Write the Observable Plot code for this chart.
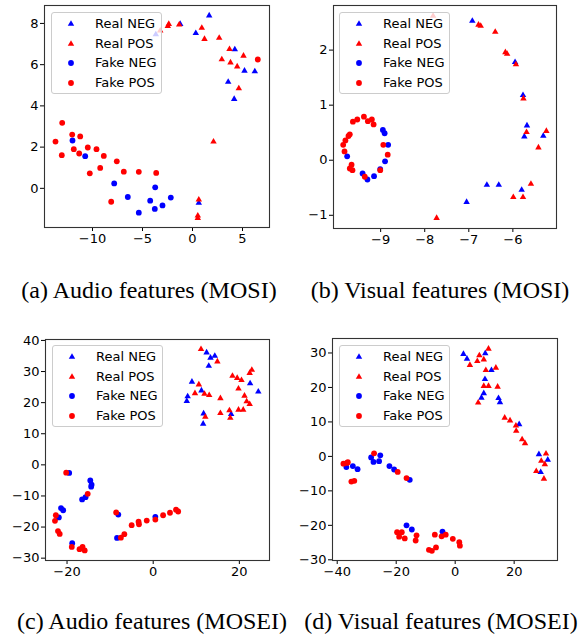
<!DOCTYPE html>
<html>
<head>
<meta charset="utf-8">
<script src="https://cdn.jsdelivr.net/npm/d3@7"></script>
<script src="https://cdn.jsdelivr.net/npm/@observablehq/plot@0.6"></script>
<style>
  body { margin: 0; background: #fff; }
  #root { position: relative; width: 584px; height: 634px; background: #fff; overflow: hidden; }
  .panel { position: absolute; }
  .legend { position: absolute; width: 109px; height: 80px; background: rgba(255,255,255,0.8);
            border: 1px solid #cccccc; border-radius: 3px; font-family: "DejaVu Sans", sans-serif; font-size: 13px; color: #000; }
  .legend .row { position: absolute; left: 0; height: 20px; line-height: 20px; white-space: nowrap; }
  .legend .row svg { position: absolute; left: 12px; top: 3px; }
  .legend .row span { position: absolute; left: 43px; top: 0; }
  .caption { position: absolute; font-family: "Liberation Serif", "Times New Roman", serif; font-size: 24px;
             line-height: 26px; text-align: center; white-space: nowrap; color: #000; }
</style>
</head>
<body>
<div id="root"></div>
<script>
// ---------- legend / captions ----------
const seriesNames = ["Real NEG", "Real POS", "Fake NEG", "Fake POS"];
const seriesColors = ["blue", "red", "blue", "red"];
const seriesSymbols = ["triangle", "triangle", "circle", "circle"];
const captions = ["(a) Audio features (MOSI)", "(b) Visual features (MOSI)", "(c) Audio features (MOSEI)", "(d) Visual features (MOSEI)"];

// ---------- ticks ----------
const ticksAX = [-10, -5, 0, 5];
const ticksAY = [0, 2, 4, 6, 8];
const ticksBX = [-9, -8, -7, -6];
const ticksBY = [-1, 0, 1, 2];
const ticksCX = [-20, 0, 20];
const ticksCY = [-30, -20, -10, 0, 10, 20, 30, 40];
const ticksDX = [-40, -20, 0, 20];
const ticksDY = [-30, -20, -10, 0, 10, 20, 30];

// ---------- (a) Audio MOSI ----------
const aRealNeg = [[-3.67,7.47],[-1.23,7.97],[1.67,8.38],[0.33,7.53],[4.23,6.74],[5.2,5.70],[6.23,5.67],[3.57,5.16],[4.17,4.33],[0.63,-0.71]];
const aRealPos = [[-3.23,7.65],[-2.37,7.97],[-2.47,7.87],[-1.33,7.94],[0.93,7.78],[1.2,7.24],[2.67,7.3],[3.7,6.75],[2.93,6.25],[3.8,6.1],[5.1,6.43],[4.47,5.91],[4.63,4.85],[2.1,2.26],[0.63,-0.55],[0.53,-1.33],[0.53,-1.44]];
const aFakeNeg = [[-12.0,2.32],[-10.73,1.56],[-7.83,0.24],[-6.47,-0.42],[-3.73,0.05],[-4.23,-0.6],[-5.37,-1.18],[-3.77,-1.0],[-3.0,-0.83],[-2.17,-0.45]];
const aFakePos = [[-13.7,2.27],[-13.03,3.18],[-13.07,1.61],[-12.03,2.61],[-11.23,2.52],[-11.87,1.9],[-11.33,1.69],[-10.47,1.98],[-9.6,1.9],[-8.87,1.57],[-10.27,0.73],[-9.23,0.99],[-7.57,1.31],[-6.87,0.81],[-5.37,0.8],[-3.63,0.75],[-8.13,-0.65],[6.53,6.25]];

// ---------- (b) Visual MOSI ----------
const bRealNeg = [[-6.92,2.53],[-5.95,1.78],[-5.77,1.18],[-5.68,0.63],[-5.74,0.43],[-5.31,0.44],[-6.59,-0.45],[-6.32,-0.45],[-5.80,-0.54],[-7.05,-0.76]];
const bRealPos = [[-7.81,2.62],[-6.78,2.46],[-6.73,2.44],[-6.40,2.33],[-6.17,1.96],[-6.13,1.93],[-5.93,1.74],[-5.76,1.12],[-5.69,0.51],[-5.24,0.53],[-5.42,0.23],[-5.59,-0.43],[-5.99,-0.67],[-5.77,-0.67],[-7.73,-1.05]];
const bFakeNeg = [[-8.95,0.55],[-8.91,0.49],[-8.83,0.28],[-8.90,-0.02],[-9.01,-0.16],[-9.15,-0.29],[-9.30,-0.35],[-9.41,-0.24],[-9.76,0.07]];
const bFakePos = [[-9.38,0.79],[-9.53,0.74],[-9.63,0.70],[-9.29,0.71],[-9.20,0.74],[-9.16,0.65],[-9.70,0.47],[-9.73,0.44],[-9.80,0.36],[-9.85,0.28],[-9.82,0.16],[-9.66,-0.08],[-9.70,-0.15],[-9.64,-0.18],[-9.36,-0.30],[-8.94,0.28],[-8.84,0.10],[-9.01,-0.18]];

// ---------- (c) Audio MOSEI ----------
const cRealNeg = [[12.4,36.1],[13.3,34.4],[14.3,35.0],[12.9,31.8],[9.0,26.7],[8.0,22.0],[7.8,20.5],[11.2,23.9],[11.7,16.5],[11.6,13.2],[18.1,16.3],[22.5,26.2],[24.4,23.5]];
const cRealPos = [[11.1,37.2],[14.9,33.2],[10.6,25.8],[9.7,23.0],[11.9,22.8],[13.0,22.4],[12.1,15.4],[15.6,21.4],[15.6,16.6],[17.7,17.5],[17.9,15.1],[18.4,28.6],[19.5,27.9],[20.5,27.2],[19.8,24.5],[22.9,30.5],[22.4,29.5],[21.2,22.2],[21.7,20.4],[22.4,19.5],[19.8,17.7],[20.9,17.7]];
const cFakeNeg = [[-19.5,-2.6],[-14.6,-5.0],[-14.3,-6.4],[-14.4,-7.0],[-16.5,-11.1],[-15.7,-10.4],[-21.4,-13.9],[-20.9,-14.6],[-21.9,-16.9],[-18.8,-25.2],[-8.1,-16.0],[-8.4,-23.5],[0.5,-16.7]];
const cFakePos = [[-20.2,-2.5],[-15.2,-9.3],[-22.6,-16.2],[-22.8,-18.0],[-22.1,-21.3],[-21.7,-22.2],[-18.9,-26.4],[-17.1,-27.1],[-16.4,-26.4],[-15.9,-27.5],[-8.6,-15.3],[-7.5,-23.4],[-6.7,-22.3],[-5.0,-19.4],[-3.4,-18.3],[-3.3,-19.1],[-1.5,-17.9],[0.5,-17.6],[2.3,-16.2],[3.9,-15.4],[5.3,-14.4],[5.8,-15.0]];

// ---------- (d) Visual MOSEI ----------
const dRealNeg = [[2.8,29.7],[4.0,28.3],[10.2,29.9],[10.1,22.4],[9.7,18.3],[8.9,17.0],[12.3,25.0],[14.7,16.9],[15.2,15.7],[21.7,9.3],[28.4,0.6],[29.0,-4.6],[31.4,-1.0]];
const dRealPos = [[5.0,26.5],[7.5,27.6],[8.2,29.3],[9.7,28.1],[11.3,31.2],[10.4,25.0],[9.7,20.4],[11.3,20.4],[7.8,15.6],[13.8,25.7],[14.4,20.2],[16.8,11.2],[18.6,10.4],[20.6,8.9],[20.7,7.4],[22.7,4.9],[23.7,3.8],[30.8,0.8],[29.2,-1.3],[30.4,-2.3],[27.5,-4.3],[30.1,-6.5]];
const dFakeNeg = [[-36.9,-3.1],[-34.7,-2.8],[-33.1,-3.7],[-28.5,-0.3],[-27.7,-1.6],[-25.4,0.3],[-25.8,-1.4],[-22.3,-2.8],[-20.7,-3.8],[-15.4,-6.8],[-16.5,-20.0],[-14.7,-21.2],[-4.3,-21.8]];
const dFakePos = [[-37.9,-2.1],[-36.7,-1.9],[-36.4,-1.7],[-35.2,-7.3],[-34.2,-7.1],[-27.5,0.9],[-19.5,-4.5],[-16.5,-6.3],[-19.7,-22.0],[-18.1,-22.0],[-19.0,-23.3],[-17.1,-23.8],[-13.1,-22.9],[-13.4,-24.4],[-6.9,-22.7],[-4.6,-23.2],[-3.2,-22.7],[-0.8,-23.9],[1.4,-24.9],[1.6,-25.9],[-8.9,-27.1],[-7.9,-27.4],[-6.5,-26.4]];

// ---------- panel configs ----------
const panels = [
  {left: 0, top: 0, w: 290, h: 250, ml: 44, mr: 21, mt: 5, mb: 23, xd: [-14.8, 7.7], yd: [-1.9, 8.87], xt: ticksAX, yt: ticksAY,
   series: [aRealNeg, aRealPos, aFakeNeg, aFakePos], legend: [51, 12], cap: [149, 277]},
  {left: 290, top: 0, w: 294, h: 250, ml: 43, mr: 28, mt: 5, mb: 22, xd: [-10.07, -5.01], yd: [-1.24, 2.81], xt: ticksBX, yt: ticksBY,
   series: [bRealNeg, bRealPos, bFakeNeg, bFakePos], legend: [339, 12], cap: [440, 277]},
  {left: 0, top: 320, w: 290, h: 260, ml: 45, mr: 21, mt: 19, mb: 20, xd: [-25.0, 27.0], yd: [-30.75, 40.3], xt: ticksCX, yt: ticksCY,
   series: [cRealNeg, cRealPos, cFakeNeg, cFakePos], legend: [52, 345], cap: [152, 608]},
  {left: 290, top: 320, w: 294, h: 260, ml: 42, mr: 27, mt: 18, mb: 20, xd: [-41.6, 34.7], yd: [-30.2, 34.2], xt: ticksDX, yt: ticksDY,
   series: [dRealNeg, dRealPos, dFakeNeg, dFakePos], legend: [339, 345], cap: [441, 608]}
];

const fmt = d3.format("d");
const root = document.getElementById("root");

function markerSvg(i) {
  const ns = "http://www.w3.org/2000/svg";
  const svg = document.createElementNS(ns, "svg");
  svg.setAttribute("width", 14); svg.setAttribute("height", 14);
  let el;
  if (seriesSymbols[i] === "triangle") {
    el = document.createElementNS(ns, "path");
    el.setAttribute("d", d3.symbol(d3.symbolTriangle, Math.PI * 2.4 * 2.4)());
  } else {
    el = document.createElementNS(ns, "circle");
    el.setAttribute("r", 2.9);
  }
  el.setAttribute("transform", "translate(7,7)");
  el.setAttribute("fill", seriesColors[i]);
  svg.appendChild(el);
  return svg;
}

panels.forEach((p, pi) => {
  const marks = [
    Plot.axisX({ticks: p.xt, tickSize: 4, tickPadding: 2, tickFormat: fmt, label: null, fontSize: 13}),
    Plot.axisY({ticks: p.yt, tickSize: 4, tickPadding: 2, tickFormat: fmt, label: null, fontSize: 13})
  ];
  p.series.forEach((pts, i) => {
    marks.push(Plot.dot(pts, {
      x: d => d[0], y: d => d[1],
      symbol: seriesSymbols[i], fill: seriesColors[i],
      r: seriesSymbols[i] === "triangle" ? 2.4 : 2.9
    }));
  });
  marks.push(Plot.frame({stroke: "#333", strokeWidth: 1.1}));
  const chart = Plot.plot({
    width: p.w, height: p.h,
    marginLeft: p.ml, marginRight: p.mr, marginTop: p.mt, marginBottom: p.mb,
    x: {domain: p.xd, label: null},
    y: {domain: p.yd, label: null},
    style: {fontFamily: "DejaVu Sans, sans-serif", fontSize: "13px", color: "black", background: "transparent", overflow: "visible"},
    marks
  });
  chart.classList.add("panel");
  chart.style.left = p.left + "px";
  chart.style.top = p.top + "px";
  root.appendChild(chart);

  // legend
  const lg = document.createElement("div");
  lg.className = "legend";
  lg.style.left = p.legend[0] + "px";
  lg.style.top = p.legend[1] + "px";
  seriesNames.forEach((name, i) => {
    const row = document.createElement("div");
    row.className = "row";
    row.style.top = (1 + i * 19.7) + "px";
    row.appendChild(markerSvg(i));
    const sp = document.createElement("span");
    sp.textContent = name;
    row.appendChild(sp);
    lg.appendChild(row);
  });
  root.appendChild(lg);

  // caption
  const cap = document.createElement("div");
  cap.className = "caption";
  cap.textContent = captions[pi];
  cap.style.left = (p.cap[0] - 150) + "px";
  cap.style.width = "300px";
  cap.style.top = p.cap[1] + "px";
  root.appendChild(cap);
});
</script>
</body>
</html>
